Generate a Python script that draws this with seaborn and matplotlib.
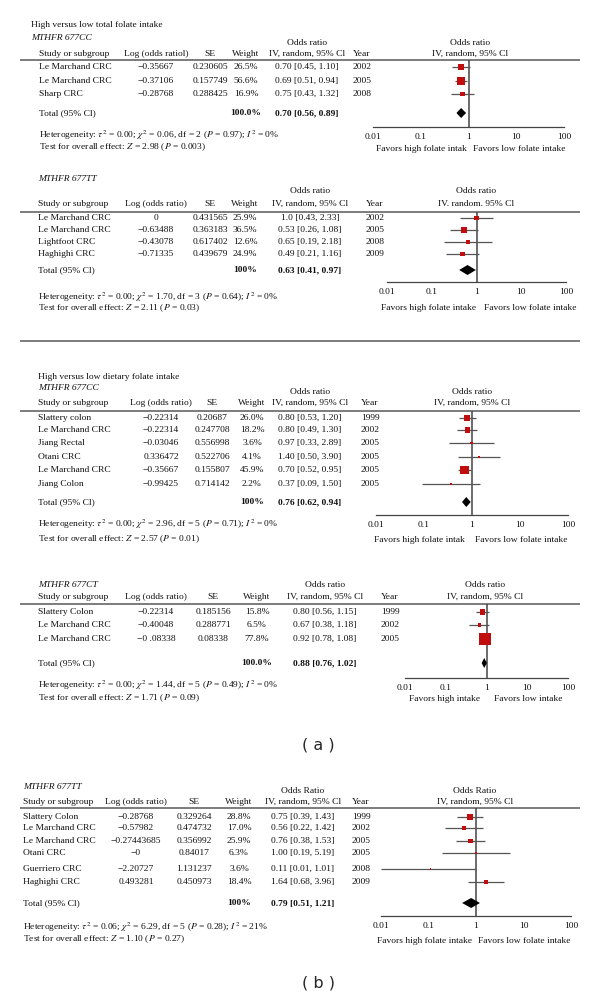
#!/usr/bin/env python3
# Forest plots: MTHFR C677T genotype x folate intake and colorectal cancer

import matplotlib
matplotlib.use("Agg")
import matplotlib.pyplot as plt
import numpy as np
import pandas as pd
import seaborn as sns
from matplotlib.ticker import NullLocator

sns.set_style("white")
plt.rcParams['font.family'] = ['Liberation Serif', 'DejaVu Serif']
plt.rcParams['mathtext.fontset'] = 'stix'

W, H = 600, 998
FS = 6.8
RED = "#c00d0d"
GREY = "#555555"

# ---- data: (a) total folate, 677CC
cc_tot_study = ["Le Marchand CRC", "Le Marchand CRC", "Sharp CRC"]
cc_tot_logor = ["\u22120.35667", "\u22120.37106", "\u22120.28768"]
cc_tot_se = ["0.230605", "0.157749", "0.288425"]
cc_tot_weight = [26.5, 56.6, 16.9]
cc_tot_or = [0.70, 0.69, 0.75]
cc_tot_lo = [0.45, 0.51, 0.43]
cc_tot_hi = [1.10, 0.94, 1.32]
cc_tot_ortxt = ["0.70 [0.45, 1.10]", "0.69 [0.51, 0.94]", "0.75 [0.43, 1.32]"]
cc_tot_year = ["2002", "2005", "2008"]
cc_tot_total = (0.70, 0.56, 0.89, "100.0%", "0.70 [0.56, 0.89]")
cc_tot_het = ("0.00", "0.06", "2", "0.97", "0%", "2.98", "0.003")

# ---- (a) total folate, 677TT
tt_tot_study = ["Le Marchand CRC", "Le Marchand CRC", "Lightfoot CRC", "Haghighi CRC"]
tt_tot_logor = ["0", "\u22120.63488", "\u22120.43078", "\u22120.71335"]
tt_tot_se = ["0.431565", "0.363183", "0.617402", "0.439679"]
tt_tot_weight = [25.9, 36.5, 12.6, 24.9]
tt_tot_or = [1.0, 0.53, 0.65, 0.49]
tt_tot_lo = [0.43, 0.26, 0.19, 0.21]
tt_tot_hi = [2.33, 1.08, 2.18, 1.16]
tt_tot_ortxt = ["1.0 [0.43, 2.33]", "0.53 [0.26, 1.08]", "0.65 [0.19, 2.18]", "0.49 [0.21, 1.16]"]
tt_tot_year = ["2002", "2005", "2008", "2009"]
tt_tot_total = (0.63, 0.41, 0.97, "100%", "0.63 [0.41, 0.97]")
tt_tot_het = ("0.00", "1.70", "3", "0.64", "0%", "2.11", "0.03")

# ---- (a) dietary folate, 677CC
cc_diet_study = ["Slattery colon", "Le Marchand CRC", "Jiang Rectal", "Otani CRC",
                 "Le Marchand CRC", "Jiang Colon"]
cc_diet_logor = ["\u22120.22314", "\u22120.22314", "\u22120.03046", "0.336472",
                 "\u22120.35667", "\u22120.99425"]
cc_diet_se = ["0.20687", "0.247708", "0.556998", "0.522706", "0.155807", "0.714142"]
cc_diet_weight = [26.0, 18.2, 3.6, 4.1, 45.9, 2.2]
cc_diet_or = [0.80, 0.80, 0.97, 1.40, 0.70, 0.37]
cc_diet_lo = [0.53, 0.49, 0.33, 0.50, 0.52, 0.09]
cc_diet_hi = [1.20, 1.30, 2.89, 3.90, 0.95, 1.50]
cc_diet_ortxt = ["0.80 [0.53, 1.20]", "0.80 [0.49, 1.30]", "0.97 [0.33, 2.89]",
                 "1.40 [0.50, 3.90]", "0.70 [0.52, 0.95]", "0.37 [0.09, 1.50]"]
cc_diet_year = ["1999", "2002", "2005", "2005", "2005", "2005"]
cc_diet_total = (0.76, 0.62, 0.94, "100%", "0.76 [0.62, 0.94]")
cc_diet_het = ("0.00", "2.96", "5", "0.71", "0%", "2.57", "0.01")

# ---- (a) dietary folate, 677CT
ct_diet_study = ["Slattery Colon", "Le Marchand CRC", "Le Marchand CRC"]
ct_diet_logor = ["\u22120.22314", "\u22120.40048", "\u22120 .08338"]
ct_diet_se = ["0.185156", "0.288771", "0.08338"]
ct_diet_weight = [15.8, 6.5, 77.8]
ct_diet_or = [0.80, 0.67, 0.92]
ct_diet_lo = [0.56, 0.38, 0.78]
ct_diet_hi = [1.15, 1.18, 1.08]
ct_diet_ortxt = ["0.80 [0.56, 1.15]", "0.67 [0.38, 1.18]", "0.92 [0.78, 1.08]"]
ct_diet_year = ["1999", "2002", "2005"]
ct_diet_total = (0.88, 0.76, 1.02, "100.0%", "0.88 [0.76, 1.02]")
ct_diet_het = ("0.00", "1.44", "5", "0.49", "0%", "1.71", "0.09")

# ---- (b) 677TT
tt_b_study = ["Slattery Colon", "Le Marchand CRC", "Le Marchand CRC", "Otani CRC",
              "Guerriero CRC", "Haghighi CRC"]
tt_b_logor = ["\u22120.28768", "\u22120.57982", "\u22120.27443685", "\u22120",
              "\u22122.20727", "0.493281"]
tt_b_se = ["0.329264", "0.474732", "0.356992", "0.84017", "1.131237", "0.450973"]
tt_b_weight = [28.8, 17.0, 25.9, 6.3, 3.6, 18.4]
tt_b_or = [0.75, 0.56, 0.76, 1.00, 0.11, 1.64]
tt_b_lo = [0.39, 0.22, 0.38, 0.19, 0.01, 0.68]
tt_b_hi = [1.43, 1.42, 1.53, 5.19, 1.01, 3.96]
tt_b_ortxt = ["0.75 [0.39, 1.43]", "0.56 [0.22, 1.42]", "0.76 [0.38, 1.53]",
              "1.00 [0.19, 5.19]", "0.11 [0.01, 1.01]", "1.64 [0.68, 3.96]"]
tt_b_year = ["1999", "2002", "2005", "2005", "2008", "2009"]
tt_b_total = (0.79, 0.51, 1.21, "100%", "0.79 [0.51, 1.21]")
tt_b_het = ("0.06", "6.29", "5", "0.28", "21%", "1.10", "0.27")

tick_vals = [0.01, 0.1, 1, 10, 100]
tick_labels = ["0.01", "0.1", "1", "10", "100"]

# ---- layout (pixel positions in the 600x998 canvas)
sections = [
    dict(study=cc_tot_study, logor=cc_tot_logor, se=cc_tot_se, w=cc_tot_weight,
         orv=cc_tot_or, lo=cc_tot_lo, hi=cc_tot_hi, ortxt=cc_tot_ortxt, year=cc_tot_year,
         total=cc_tot_total, het=cc_tot_het,
         titles=[(31, 25, "High versus low total folate intake", "normal"),
                 (31, 38, "MTHFR 677CC", "italic")],
         log_head="Log (odds ratiol)", or_head="Odds ratio", plot_head2="IV, random, 95% Cl",
         fav=("Favors high folate intak", "Favors low folate intake"),
         x_study=39, x_log=156, x_se=210, x_w=246, x_or=307, x_year=353,
         px0=373, px1=564, or_head_y=43, head_y=54, line_y=60,
         rows=[67, 81, 94], total_y=113, axis_y=127, het_y=135, test_y=147,
         fav_y=149, fav_x=(421, 519), smax=65, x_plot_head=470),
    dict(study=tt_tot_study, logor=tt_tot_logor, se=tt_tot_se, w=tt_tot_weight,
         orv=tt_tot_or, lo=tt_tot_lo, hi=tt_tot_hi, ortxt=tt_tot_ortxt, year=tt_tot_year,
         total=tt_tot_total, het=tt_tot_het,
         titles=[(38, 179, "MTHFR 677TT", "italic")],
         log_head="Log (odds ratio)", or_head="Odds ratio", plot_head2="IV. random. 95% Cl",
         fav=("Favors high folate intake", "Favors low folate intake"),
         x_study=38, x_log=156, x_se=210, x_w=245, x_or=310, x_year=366,
         px0=387, px1=566, or_head_y=191, head_y=204, line_y=212,
         rows=[218, 230, 242, 254], total_y=270, axis_y=282, het_y=297, test_y=308,
         fav_y=308, fav_x=(429, 530), smax=45, x_plot_head=476),
    dict(study=cc_diet_study, logor=cc_diet_logor, se=cc_diet_se, w=cc_diet_weight,
         orv=cc_diet_or, lo=cc_diet_lo, hi=cc_diet_hi, ortxt=cc_diet_ortxt, year=cc_diet_year,
         total=cc_diet_total, het=cc_diet_het,
         titles=[(38, 377, "High versus low dietary folate intake", "normal"),
                 (38, 388, "MTHFR 677CC", "italic")],
         log_head="Log (odds ratio)", or_head="Odds ratio", plot_head2="IV, random, 95% Cl",
         fav=("Favors high folate intak", "Favors low folate intake"),
         x_study=38, x_log=161, x_se=212, x_w=252, x_or=310, x_year=361,
         px0=376, px1=568, or_head_y=392, head_y=403, line_y=411,
         rows=[418, 430, 443, 457, 470, 484], total_y=502, axis_y=515, het_y=524,
         test_y=539, fav_y=540, fav_x=(419, 521), smax=75, x_plot_head=472),
    dict(study=ct_diet_study, logor=ct_diet_logor, se=ct_diet_se, w=ct_diet_weight,
         orv=ct_diet_or, lo=ct_diet_lo, hi=ct_diet_hi, ortxt=ct_diet_ortxt, year=ct_diet_year,
         total=ct_diet_total, het=ct_diet_het,
         titles=[(38, 585, "MTHFR 677CT", "italic")],
         log_head="Log (odds ratio)", or_head="Odds ratio", plot_head2="IV, random, 95% Cl",
         fav=("Favors high intake", "Favors low intake"),
         x_study=38, x_log=156, x_se=213, x_w=257, x_or=325, x_year=381,
         px0=405, px1=568, or_head_y=585, head_y=597, line_y=604,
         rows=[612, 625, 639], total_y=663, axis_y=678, het_y=685, test_y=698,
         fav_y=699, fav_x=(445, 528), smax=85, x_plot_head=485),
    dict(study=tt_b_study, logor=tt_b_logor, se=tt_b_se, w=tt_b_weight,
         orv=tt_b_or, lo=tt_b_lo, hi=tt_b_hi, ortxt=tt_b_ortxt, year=tt_b_year,
         total=tt_b_total, het=tt_b_het,
         titles=[(23, 787, "MTHFR 677TT", "italic")],
         log_head="Log (odds ratio)", or_head="Odds Ratio", plot_head2="IV, random, 95% Cl",
         fav=("Favors high folate intake", "Favors low folate intake"),
         x_study=23, x_log=136, x_se=194, x_w=239, x_or=303, x_year=352,
         px0=381, px1=571, or_head_y=791, head_y=802, line_y=808,
         rows=[817, 828, 841, 853, 869, 882], total_y=903, axis_y=916, het_y=927,
         test_y=939, fav_y=941, fav_x=(425, 524), smax=50, x_plot_head=475),
]


def txt(ax, x, y, s, ha='left', **kw):
    ax.text(x, y, s, ha=ha, va='center', fontsize=FS, color='#111111', **kw)


def draw_section(fig, bg, s):
    for x, y, t, style in s['titles']:
        txt(bg, x, y, t, style=style)

    # column headers
    txt(bg, s['x_or'], s['or_head_y'], s['or_head'], ha='center')
    txt(bg, s['x_plot_head'], s['or_head_y'], s['or_head'], ha='center')
    hy = s['head_y']
    txt(bg, s['x_study'], hy, "Study or subgroup")
    txt(bg, s['x_log'], hy, s['log_head'], ha='center')
    txt(bg, s['x_se'], hy, "SE", ha='center')
    txt(bg, s['x_w'], hy, "Weight", ha='center')
    txt(bg, s['x_or'], hy, "IV, random, 95% Cl", ha='center')
    txt(bg, s['x_year'], hy, "Year")
    txt(bg, s['x_plot_head'], hy, s['plot_head2'], ha='center')
    bg.hlines(s['line_y'], 20, 580, color='#666666', lw=1.2)

    # table rows
    for i, y in enumerate(s['rows']):
        txt(bg, s['x_study'], y, s['study'][i])
        txt(bg, s['x_log'], y, s['logor'][i], ha='center')
        txt(bg, s['x_se'], y, s['se'][i], ha='center')
        txt(bg, s['x_w'], y, f"{s['w'][i]:.1f}%", ha='center')
        txt(bg, s['x_or'], y, s['ortxt'][i], ha='center')
        txt(bg, s['x_year'], y, s['year'][i])

    t_or, t_lo, t_hi, t_w, t_txt = s['total']
    txt(bg, s['x_study'], s['total_y'], "Total (95% Cl)")
    txt(bg, s['x_w'], s['total_y'], t_w, ha='center', weight='bold')
    txt(bg, s['x_or'], s['total_y'], t_txt, ha='center', weight='bold')

    tau, chi, df_, p_het, i2, z, p_z = s['het']
    txt(bg, s['x_study'], s['het_y'],
        rf"Heterogeneity: $\tau^2$ = {tau}; $\chi^2$ = {chi}, df = {df_} ($P$ = {p_het}); $I^2$ = {i2}")
    txt(bg, s['x_study'], s['test_y'],
        rf"Test for overall effect: $Z$ = {z} ($P$ = {p_z})")
    txt(bg, s['fav_x'][0], s['fav_y'], s['fav'][0], ha='center')
    txt(bg, s['fav_x'][1], s['fav_y'], s['fav'][1], ha='center')

    # forest panel, y in canvas pixels
    x0, x1 = s['px0'], s['px1']
    top, bot = s['line_y'], s['axis_y']
    ax = fig.add_axes([x0 / W, 1 - bot / H, (x1 - x0) / W, (bot - top) / H])
    ax.patch.set_alpha(0)
    df = pd.DataFrame({'or': s['orv'], 'lo': s['lo'], 'hi': s['hi'],
                       'w': s['w'], 'y': s['rows']})
    ax.hlines(df['y'], df['lo'], df['hi'], color=GREY, lw=0.9, zorder=2)
    sns.scatterplot(data=df, x='or', y='y', size='w', sizes=(0, s['smax']),
                    size_norm=(0, 100), marker='s', color=RED, edgecolor='none',
                    legend=False, ax=ax, zorder=3)
    ty = s['total_y']
    ax.fill([t_lo, t_or, t_hi, t_or], [ty, ty - 5, ty, ty + 5], color='black', zorder=3, lw=0)
    ax.axvline(1, color='#444444', lw=1.1, zorder=1)
    ax.set_xscale('log')
    ax.set_xlim(0.01, 100)
    ax.set_ylim(bot, top)
    ax.set_xticks(tick_vals)
    ax.set_xticklabels(tick_labels)
    ax.xaxis.set_minor_locator(NullLocator())
    ax.set_yticks([])
    ax.set_xlabel('')
    ax.set_ylabel('')
    ax.tick_params(axis='x', direction='in', length=4, width=0.8, color='#444444',
                   pad=4.5, labelsize=FS, labelcolor='#111111')
    for side in ('top', 'right', 'left'):
        ax.spines[side].set_visible(False)
    ax.spines['bottom'].set_color('#444444')
    ax.spines['bottom'].set_linewidth(0.9)


fig = plt.figure(figsize=(W / 100, H / 100), dpi=100)
bg = fig.add_axes([0, 0, 1, 1])
bg.set_xlim(0, W)
bg.set_ylim(H, 0)
bg.axis('off')

for sec in sections:
    draw_section(fig, bg, sec)

bg.hlines(341, 20, 580, color='#666666', lw=1.2)
bg.text(318, 745, "( a )", ha='center', va='center', fontsize=11.5, family='DejaVu Sans')
bg.text(318, 983, "( b )", ha='center', va='center', fontsize=11.5, family='DejaVu Sans')

fig.savefig("out.png", dpi=100, facecolor='white')
